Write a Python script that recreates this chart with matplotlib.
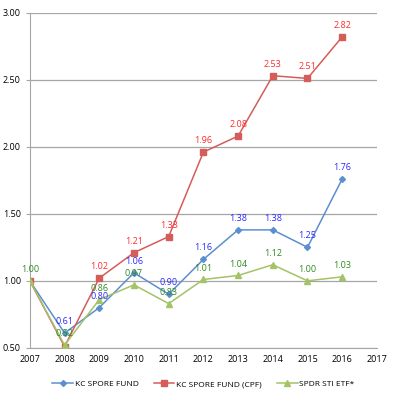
import matplotlib
matplotlib.use("Agg")
import matplotlib.pyplot as plt

years = [2007, 2008, 2009, 2010, 2011, 2012, 2013, 2014, 2015, 2016]
kc_fund = [1.00, 0.61, 0.80, 1.06, 0.90, 1.16, 1.38, 1.38, 1.25, 1.76]
kc_cpf = [1.00, 0.51, 1.02, 1.21, 1.33, 1.96, 2.08, 2.53, 2.51, 2.82]
spdr = [1.00, 0.52, 0.86, 0.97, 0.83, 1.01, 1.04, 1.12, 1.00, 1.03]

# labels hidden behind others in the original
hidden = {("fund", 2007), ("cpf", 2007), ("cpf", 2008)}

plt.rcParams["font.family"] = ["Open Sans", "DejaVu Sans"]

fig = plt.figure(figsize=(3.98, 3.98), dpi=100)
ax = fig.add_axes([0.075, 0.126, 0.872, 0.842])

series = [
    ("fund", kc_fund, "KC SPORE FUND", "#5B8FD0", "D", 3, "#2A2AFF"),
    ("cpf", kc_cpf, "KC SPORE FUND (CPF)", "#D45D5A", "s", 4.5, "#FF2A2A"),
    ("spdr", spdr, "SPDR STI ETF*", "#A4C266", "^", 5, "#2E8B1E"),
]

for key, vals, name, col, mk, ms, tcol in series:
    ax.plot(years, vals, color=col, marker=mk, markersize=ms, lw=1.1, label=name,
            markeredgecolor=col, zorder=3)
    for x, y in zip(years, vals):
        if (key, x) in hidden:
            continue
        ax.annotate(f"{y:.2f}", (x, y), xytext=(0, 5), textcoords="offset points",
                    ha="center", va="bottom", fontsize=6.5, color=tcol, zorder=4)

ax.set_xlim(2007, 2017)
ax.set_ylim(0.5, 3.0)
ax.set_xticks(range(2007, 2018))
ax.set_yticks([0.5, 1.0, 1.5, 2.0, 2.5, 3.0])
ax.set_yticklabels([f"{v:.2f}" for v in ax.get_yticks()])
ax.grid(axis="y", color="#A6A6A6", lw=0.9)
ax.set_axisbelow(True)
for s in ["top", "right"]:
    ax.spines[s].set_visible(False)
ax.spines["left"].set_color("#A6A6A6")
ax.spines["bottom"].set_color("#A6A6A6")
ax.tick_params(axis="both", labelsize=6.5, colors="#A6A6A6", labelcolor="black", length=3)
ax.tick_params(axis="x", length=0, pad=5)

ax.legend(loc="upper center", bbox_to_anchor=(0.5, -0.075), ncol=3, frameon=False,
          fontsize=6, handlelength=2.5, columnspacing=1.8, handletextpad=0.2)

fig.savefig("out.png", dpi=100)
